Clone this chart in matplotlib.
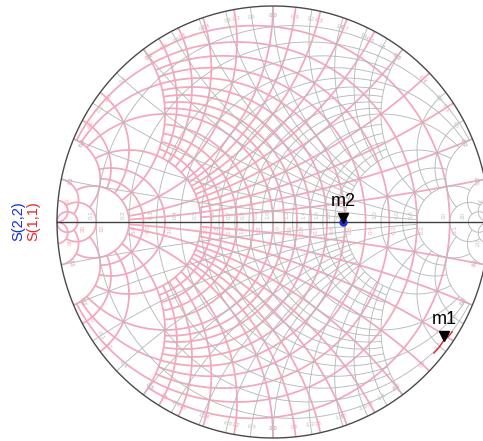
import numpy as np
import matplotlib
matplotlib.use("Agg")
import matplotlib.pyplot as plt
import matplotlib.transforms as mtransforms

plt.rcParams['font.family'] = ['Liberation Sans', 'DejaVu Sans']

# Grid circles of constant resistance / conductance: (value, max |reactance| drawn)
circle_values = [0.1, 0.2, 0.3, 0.4, 0.5, 0.6, 0.7, 0.8, 0.9, 1.0,
                 1.2, 1.4, 1.6, 1.8, 2.0, 3.0, 4.0, 5.0, 10.0, 20.0]
circle_limits = [2.0, 5.0, 2.0, 2.0, 5.0, 2.0, 2.0, 2.0, 2.0, 5.0,
                 2.0, 2.0, 2.0, 2.0, 5.0, 5.0, 5.0, 10.0, 20.0, np.inf]
# Grid arcs of constant reactance / susceptance: (value, max resistance drawn)
arc_values = [0.1, 0.2, 0.3, 0.4, 0.5, 0.6, 0.7, 0.8, 0.9, 1.0,
              1.2, 1.4, 1.6, 1.8, 2.0, 3.0, 4.0, 5.0, 10.0, 20.0]
arc_limits = [2.0, 5.0, 2.0, 2.0, 5.0, 2.0, 2.0, 2.0, 2.0, 5.0,
              2.0, 2.0, 2.0, 2.0, 5.0, 5.0, 5.0, 10.0, 20.0, np.inf]
axis_labels = ["0.1", "0.2", "0.3", "0.4", "0.5", "0.6", "0.7", "0.8", "0.9", "1.0",
               "1.2", "1.4", "1.6", "1.8", "2.0", "3.0", "4.0", "5.0", "10", "20"]

# Measured traces (reflection coefficients)
s11 = np.array([0.745 - 0.607j, 0.768 - 0.582j, 0.792 - 0.546j,
                0.812 - 0.530j, 0.830 - 0.508j])
s22 = np.array([0.325 + 0.0j])
m1_index = 2
m2_index = 0

ZCOLOR = '#b6baba'
YCOLOR = '#f4a6ba'


def gamma(z):
    return (z - 1) / (z + 1)


def r_circle(r, xmax):
    th = np.linspace(-np.arctan(xmax), np.arctan(xmax), 600)
    with np.errstate(all='ignore'):
        x = np.tan(th)
    x = np.clip(x, -1e6, 1e6)
    return gamma(r + 1j * x)


def x_arc(x, rmax):
    tmax = rmax / (1 + rmax) if np.isfinite(rmax) else 0.999999
    t = np.linspace(0, tmax, 600)
    r = t / (1 - t)
    return gamma(r + 1j * x)


fig = plt.figure(figsize=(4.83, 4.41), dpi=100)
ax = fig.add_axes([0, 0, 1, 1])
cx, cy, R = 273.0, 222.0, 216.0
ax.set_xlim((0 - cx) / R, (483 - cx) / R)
ax.set_ylim((cy - 441) / R, (cy - 0) / R)
ax.set_aspect('equal')
ax.axis('off')


def draw_grid(sign, color, lw, z):
    for v, lim in zip(circle_values, circle_limits):
        g = sign * r_circle(v, lim)
        ax.plot(g.real, g.imag, color=color, lw=lw, zorder=z, solid_capstyle='butt')
    for v, lim in zip(arc_values, arc_limits):
        for s in (1, -1):
            g = sign * x_arc(s * v, lim)
            ax.plot(g.real, g.imag, color=color, lw=lw, zorder=z, solid_capstyle='butt')


# admittance grid (pink) and impedance grid (gray)
draw_grid(-1, YCOLOR, 1.25, 1)
draw_grid(1, ZCOLOR, 0.65, 2)

# Real-axis value labels
for v, lab in zip(circle_values, axis_labels):
    gz = gamma(v)
    ax.text(gz - 0.025, 0.015, lab, rotation=90, fontsize=4.5, color='#bcc0c0',
            ha='center', va='bottom', zorder=3)
    ax.text(-gz + 0.025, -0.015, lab, rotation=90, fontsize=4.5, color='#f2a4b6',
            ha='center', va='top', zorder=3)

# Perimeter labels for reactance / susceptance arcs
for v, lab in zip(arc_values, axis_labels):
    for s in (1, -1):
        g = gamma(1j * s * v)
        txt = lab if s > 0 else "-" + lab
        for pt, col in ((g, '#bcc0c0'), (-g, '#f2a4b6')):
            pos = 0.955 * pt
            rot = np.degrees(np.angle(pt)) - 90
            if rot < -90:
                rot += 180
            ax.text(pos.real, pos.imag, txt, rotation=rot, fontsize=4.0, color=col,
                    ha='center', va='center', zorder=3, rotation_mode='anchor')

# Outer boundary and real axis
th = np.linspace(0, 2 * np.pi, 800)
ax.plot(np.cos(th), np.sin(th), color='#4a4a4a', lw=1.0, zorder=4)
ax.plot([-1, 1], [0, 0], color='#404040', lw=1.0, zorder=4)

# Traces
ax.plot(s11.real, s11.imag, color='#e8262a', lw=1.0, zorder=5)
ax.plot(s22.real, s22.imag, 'o', color='#2030e0', ms=5, mec='#2030e0', zorder=5)

# Markers
up = mtransforms.offset_copy(ax.transData, fig=fig, x=0, y=4, units='dots')
for pt, name in ((s11[m1_index], 'm1'), (s22[m2_index], 'm2')):
    ax.plot([pt.real], [pt.imag], marker='v', color='black', ms=7, transform=up, zorder=6)
    ax.annotate(name, (pt.real, pt.imag), xytext=(0, 8.5), textcoords='offset points',
                ha='center', va='bottom', fontsize=13, color='black', zorder=7)

# Trace names
fig.text(18.5 / 483, 1 - 221 / 441, 'S(2,2)', rotation=90, color='#1a2ad8', fontsize=10.5,
         ha='center', va='center')
fig.text(33.5 / 483, 1 - 221 / 441, 'S(1,1)', rotation=90, color='#e8262a', fontsize=10.5,
         ha='center', va='center')

fig.savefig('out.png', dpi=100)
